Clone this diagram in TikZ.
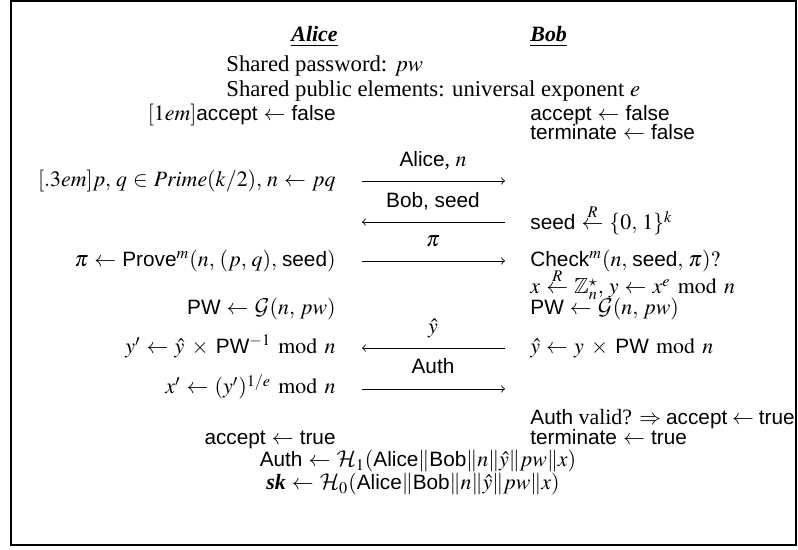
\documentclass[tikz,border=0pt]{standalone}
\usepackage{amssymb,amsmath}
\usepackage{mathptmx}
\usepackage{fontspec}
\setmainfont{Liberation Serif}
\setsansfont[Scale=0.95]{Liberation Sans}
\DeclareMathAlphabet{\mathcal}{OMS}{cmsy}{m}{n}
\usetikzlibrary{arrows}
\thinmuskip=4mu
\medmuskip=6mu plus 2mu minus 4mu
\thickmuskip=5mu plus 5mu
\newcommand{\md}{\mkern6mu\mathrm{mod}\mkern6mu}

\begin{document}
\begin{tikzpicture}[x=0.48pt, y=-0.48pt,
    every node/.style={inner sep=0pt, font=\fontsize{10.5}{13}\selectfont},
    lcol/.style={anchor=base east}, rcol/.style={anchor=base west},
    lbl/.style={anchor=base}, msg/.style={-to, line width=0.4pt},
    shared/.style={anchor=base west, font=\fontsize{10.9}{13}\selectfont}]
        \useasboundingbox (0,0) rectangle (798,550);
        % Frame
        \draw[line width=1pt] (11,1) rectangle (796,545);

        % Parties and shared data
        \node[lcol] (alice) at (338,42) {\underline{\textbf{\textit{Alice}}}};
        \node[rcol] (bob) at (530,42) {\underline{\textbf{\textit{Bob}}}};
        \node[shared] (sharedpw) at (226,72) {Shared password: $pw$};
        \node[shared] (sharedpub) at (226,97) {Shared public elements: universal exponent $e$};

        % Initial state
        \node[lcol] (ainit) at (336,121) {$[1em]\textsf{accept} \leftarrow \textsf{false}$};
        \node[rcol] (binit) at (530,121) {$\textsf{accept} \leftarrow \textsf{false}$};
        \node[rcol] (bterm) at (530,140) {$\textsf{terminate} \leftarrow \textsf{false}$};

        % Alice's side
        \node[lcol] (keygen) at (336,187) {$[.3em]p, q \in \mathit{Prime}(k/2), n \leftarrow pq$};
        \node[lcol] (prove) at (336,267) {$\pi \leftarrow \textsf{Prove}^m(n, (p, q), \textsf{seed})$};
        \node[lcol] (apw) at (336,315) {$\textsf{PW} \leftarrow \mathcal{G}(n, pw)$};
        \node[lcol] (unmask) at (336,354) {$y' \leftarrow \hat{y} \times \textsf{PW}^{-1} \md n$};
        \node[lcol] (root) at (336,394) {$x' \leftarrow (y')^{1/e} \md n$};
        \node[lcol] (aacc) at (336,445) {$\textsf{accept} \leftarrow \textsf{true}$};

        % Bob's side
        \node[rcol] (seed) at (530,230) {$\textsf{seed} \stackrel{R}{\leftarrow} \{0, 1\}^k$};
        \node[rcol] (check) at (530,267) {$\textsf{Check}^m(n, \textsf{seed}, \pi)?$};
        \node[rcol] (pick) at (530,294) {$x \stackrel{R}{\leftarrow} \mathbb{Z}_n^\star, y \leftarrow x^e \md n$};
        \node[rcol] (bpw) at (530,315) {$\textsf{PW} \leftarrow \mathcal{G}(n, pw)$};
        \node[rcol] (mask) at (530,354) {$\hat{y} \leftarrow y \times \textsf{PW} \md n$};
        \node[rcol] (verify) at (530,425) {\thickmuskip=4mu $\textsf{Auth}$ valid? $\Rightarrow \textsf{accept} \leftarrow \textsf{true}$};
        \node[rcol] (bdone) at (530,445) {$\textsf{terminate} \leftarrow \textsf{true}$};

        % Messages
        \coordinate (m1l) at (362,181); \coordinate (m1r) at (505,181);
        \coordinate (m2l) at (362,222); \coordinate (m2r) at (505,222);
        \coordinate (m3l) at (362,261); \coordinate (m3r) at (505,261);
        \coordinate (m4l) at (362,348); \coordinate (m4r) at (505,348);
        \coordinate (m5l) at (362,389); \coordinate (m5r) at (505,389);
        \draw[msg] (m1l) -- (m1r);
        \draw[msg] (m2r) -- (m2l);
        \draw[msg] (m3l) -- (m3r);
        \draw[msg] (m4r) -- (m4l);
        \draw[msg] (m5l) -- (m5r);
        \node[lbl] (l1) at (433,167) {\textsf{Alice}, $n$};
        \node[lbl] (l2) at (433,208) {\textsf{Bob, seed}};
        \node[lbl] (l3) at (433,247) {$\pi$};
        \node[lbl] (l4) at (433,334) {$\hat{y}$};
        \node[lbl] (l5) at (433,374) {\textsf{Auth}};

        % Session key
        \node[lbl] (auth) at (418,467) {$\textsf{Auth} \leftarrow \mathcal{H}_1(\textsf{Alice}\|\textsf{Bob}\|n\|\hat{y}\|pw\|x)$};
        \node[lbl] (sk) at (413,490) {$\textbf{\textit{sk}} \leftarrow \mathcal{H}_0(\textsf{Alice}\|\textsf{Bob}\|n\|\hat{y}\|pw\|x)$};
\end{tikzpicture}
\end{document}
